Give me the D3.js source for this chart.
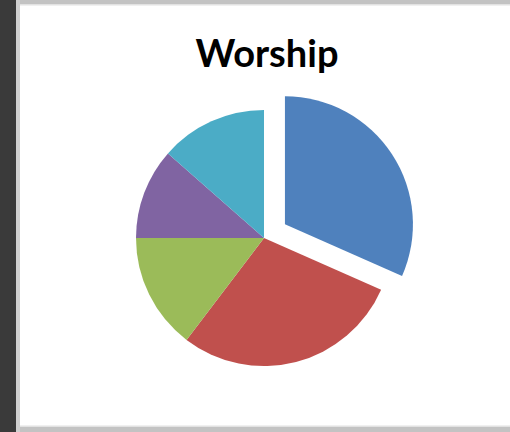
<!DOCTYPE html>
<html><head><meta charset="utf-8">
<script src="https://cdn.jsdelivr.net/npm/d3@7/dist/d3.min.js"></script>
<style>html,body{margin:0;padding:0;background:#fff;overflow:hidden}</style>
</head><body>
<script>
const title = "Worship";
const categories = ["Category 1", "Category 2", "Category 3", "Category 4", "Category 5"];
const values = [22, 20, 10.2, 8, 9.4];
const colors = ["#4F81BD", "#C0504D", "#9BBB59", "#8064A2", "#4BACC6"];
const exploded = [true, false, false, false, false];

const W = 510, H = 432;
const svg = d3.select("body").append("svg").attr("width", W).attr("height", H);

// window frame
svg.append("rect").attr("x", 0).attr("y", 0).attr("width", W).attr("height", H).attr("fill", "#ffffff");
svg.append("rect").attr("x", 0).attr("y", 0).attr("width", W).attr("height", 4).attr("fill", "#c3c3c3");
svg.append("rect").attr("x", 0).attr("y", 4).attr("width", W).attr("height", 1.5).attr("fill", "#e2e2e2");
svg.append("rect").attr("x", 0).attr("y", 427).attr("width", W).attr("height", 5).attr("fill", "#c3c3c3");
svg.append("rect").attr("x", 0).attr("y", 425.5).attr("width", W).attr("height", 1.5).attr("fill", "#e2e2e2");
svg.append("rect").attr("x", 16).attr("y", 0).attr("width", 4).attr("height", H).attr("fill", "#d0d0d0");
svg.append("rect").attr("x", 0).attr("y", 0).attr("width", 16).attr("height", H).attr("fill", "#3a3a3a");

// title
const t = svg.append("text").attr("x", 267).attr("y", 67).attr("text-anchor", "middle")
  .attr("font-family", "Lato, 'Open Sans', sans-serif").attr("font-weight", "bold")
  .attr("font-size", 36).attr("fill", "#000").text(title);
const tw = t.node().getComputedTextLength();
t.attr("font-size", 36 * 143 / tw);

// pie
const cx = 264, cy = 238, r = 128, off = 25;
const pie = d3.pie().sort(null).startAngle(0).endAngle(2 * Math.PI);
const arcs = pie(values);
const arc = d3.arc().innerRadius(0).outerRadius(r);
const g = svg.append("g").attr("transform", `translate(${cx},${cy})`);
g.selectAll("path").data(arcs).enter().append("path")
  .attr("d", arc)
  .attr("fill", (d, i) => colors[i])
  .attr("transform", (d, i) => {
    if (!exploded[i]) return null;
    const a = (d.startAngle + d.endAngle) / 2;
    return `translate(${off * Math.sin(a)},${-off * Math.cos(a)})`;
  });
</script>
</body></html>
